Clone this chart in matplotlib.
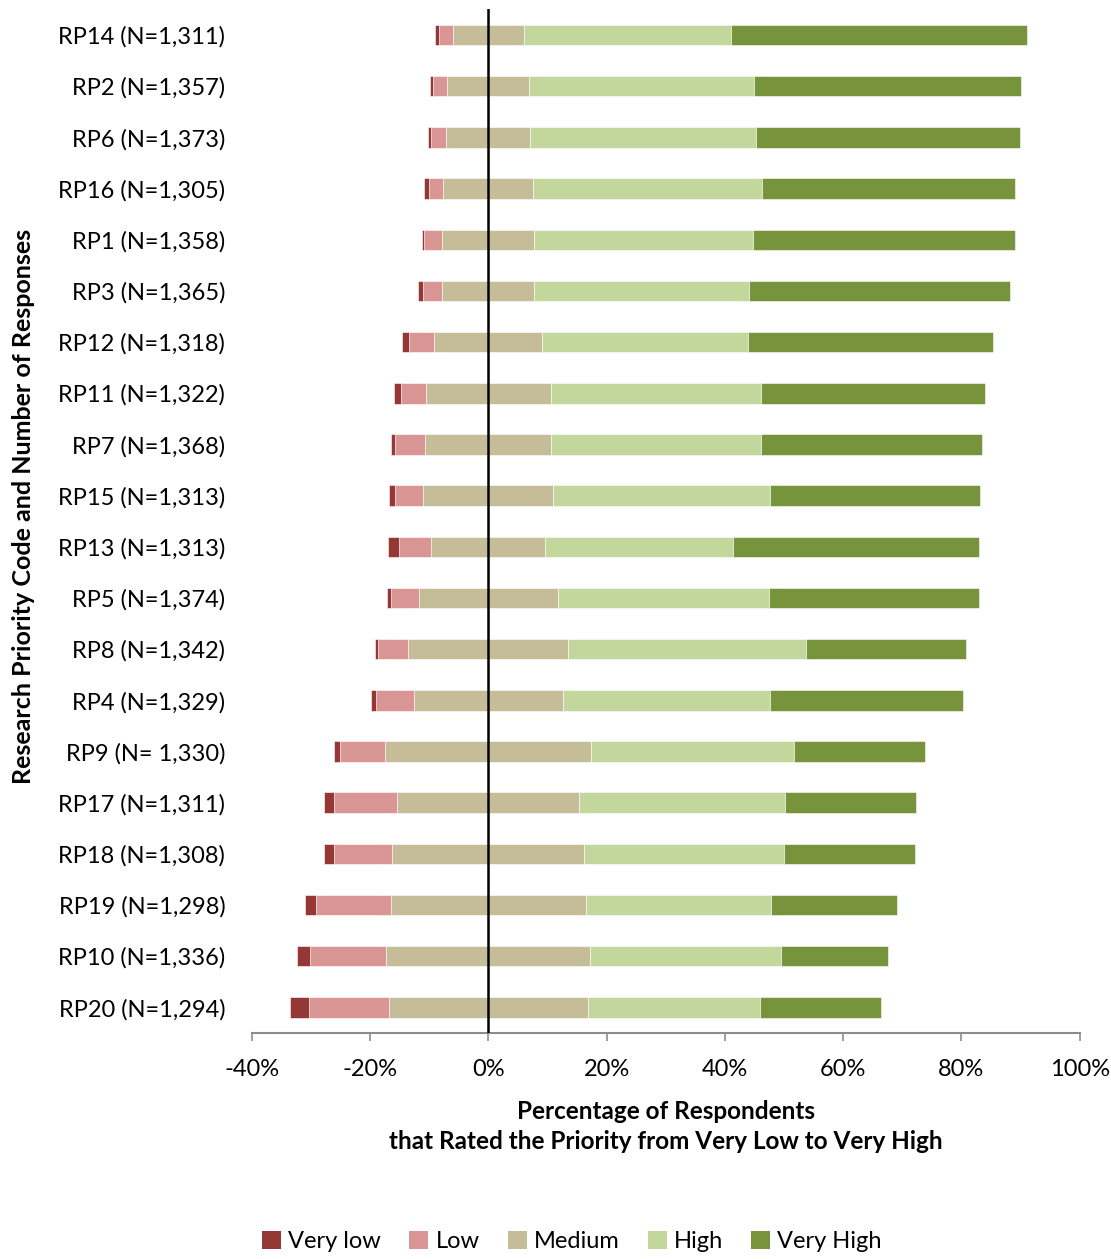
import matplotlib.pyplot as plt
import numpy as np
from matplotlib.patches import Patch

plt.rcParams['font.family'] = ['Lato', 'DejaVu Sans']

# research priorities, top to bottom
labels = ["RP14 (N=1,311)", "RP2 (N=1,357)", "RP6 (N=1,373)", "RP16 (N=1,305)",
          "RP1 (N=1,358)", "RP3 (N=1,365)", "RP12 (N=1,318)", "RP11 (N=1,322)",
          "RP7 (N=1,368)", "RP15 (N=1,313)", "RP13 (N=1,313)", "RP5 (N=1,374)",
          "RP8 (N=1,342)", "RP4 (N=1,329)", "RP9 (N= 1,330)", "RP17 (N=1,311)",
          "RP18 (N=1,308)", "RP19 (N=1,298)", "RP10 (N=1,336)", "RP20 (N=1,294)"]

# percentages of respondents
very_low = [0.6, 0.45, 0.5, 0.85, 0.35, 0.7, 1.2, 1.1, 0.7, 1.0,
            1.9, 0.6, 0.55, 0.95, 1.0, 1.7, 1.6, 1.9, 2.1, 3.1]
low = [2.4, 2.5, 2.6, 2.4, 3.0, 3.3, 4.2, 4.2, 5.1, 4.7,
       5.4, 4.7, 5.1, 6.3, 7.6, 10.7, 9.9, 12.6, 12.9, 13.5]
medium = [12.0, 13.8, 14.2, 15.3, 15.6, 15.6, 18.3, 21.1, 21.3, 22.0,
          19.3, 23.5, 27.0, 25.2, 34.8, 30.7, 32.5, 32.9, 34.5, 33.7]
high = [35.1, 38.0, 38.2, 38.6, 37.0, 36.3, 34.8, 35.6, 35.4, 36.7,
        31.7, 35.8, 40.3, 35.0, 34.3, 34.8, 33.7, 31.3, 32.2, 29.1]
very_high = [50.0, 45.2, 44.6, 42.9, 44.2, 44.1, 41.4, 37.9, 37.5, 35.5,
             41.7, 35.4, 27.0, 32.6, 22.2, 22.2, 22.2, 21.3, 18.2, 20.5]

names = ["Very low", "Low", "Medium", "High", "Very High"]
colors = ["#953735", "#D99694", "#C4BD97", "#C3D69B", "#77933C"]

y = np.arange(len(labels))
vl = np.array(very_low)
lo = np.array(low)
me = np.array(medium)
hi = np.array(high)
vh = np.array(very_high)

fig = plt.figure(figsize=(11.11, 12.59), dpi=100)
ax = fig.add_axes([0.2265, 0.1795, 0.7453, 0.813])

h = 0.4
ec = dict(edgecolor="white", linewidth=0.4)
# left of zero: half of medium, low, very low
ax.barh(y, -me / 2, height=h, color=colors[2], **ec)
ax.barh(y, -lo, left=-me / 2, height=h, color=colors[1], **ec)
ax.barh(y, -vl, left=-me / 2 - lo, height=h, color=colors[0], **ec)
# right of zero
ax.barh(y, me / 2, height=h, color=colors[2], **ec)
ax.barh(y, hi, left=me / 2, height=h, color=colors[3], **ec)
ax.barh(y, vh, left=me / 2 + hi, height=h, color=colors[4], **ec)

ax.axvline(0, color="black", lw=1.8, zorder=5)

ax.set_xlim(-40, 100)
ax.set_ylim(len(labels) - 0.5, -0.5)
ax.set_xticks(np.arange(-40, 101, 20))
ax.set_xticklabels(["%d%%" % v for v in range(-40, 101, 20)], fontsize=17)
ax.set_yticks(y)
ax.set_yticklabels(labels, fontsize=17)
ax.tick_params(axis="y", length=0, pad=19)
ax.tick_params(axis="x", length=6, width=1.2, color="#8c8c8c", direction="out", pad=13)

for s in ["top", "right", "left"]:
    ax.spines[s].set_visible(False)
ax.spines["bottom"].set_color("#8c8c8c")
ax.spines["bottom"].set_linewidth(1.5)

ax.set_xlabel("Percentage of Respondents\nthat Rated the Priority from Very Low to Very High",
              fontsize=17.5, fontweight="bold", labelpad=14, linespacing=1.4)
fig.text(0.021, 0.598, "Research Priority Code and Number of Responses", rotation=90,
         fontsize=18, fontweight="bold", ha="center", va="center")

handles = [Patch(facecolor=c, label=n) for c, n in zip(colors, names)]
fig.legend(handles=handles, loc="center", bbox_to_anchor=(0.515, 0.014), ncol=5,
           frameon=False, fontsize=17, handlelength=0.8, handleheight=0.8,
           handletextpad=0.3, columnspacing=1.2, borderpad=0.1)

plt.savefig("out.png", dpi=100)
